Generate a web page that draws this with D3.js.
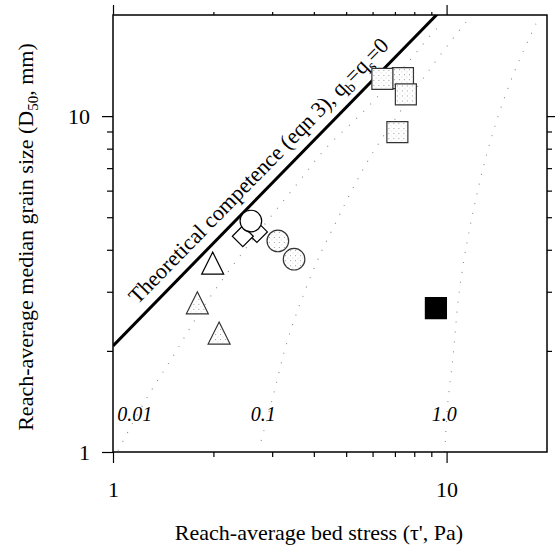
<!DOCTYPE html>
<html lang="en">
<head>
<meta charset="UTF-8">
<title>Reach-average grain size vs bed stress</title>
<script src="https://d3js.org/d3.v7.min.js"></script>
<style>
  body { margin: 0; background: #fff; }
  text { font-family: "Liberation Serif", "Times New Roman", serif; }
</style>
</head>
<body>
<svg id="chart" width="555" height="550"></svg>
<script>
// theoretical competence line (eqn 3)
var compTau = [1, 9.6];
var compD = [2.07, 20.6];

// dotted transport contours, labelled by value
var curveLabels = ["0.01", "0.1", "1.0"];
var curveTau = [
  [1.035, 1.29, 1.51, 1.80, 2.98, 3.54, 4.35, 5.57, 7.87, 8.91, 9.75],
  [2.78, 3.00, 3.35, 3.68, 4.17, 4.69, 5.28, 5.97, 7.25, 10.1, 11.5],
  [9.88, 10.1, 10.4, 10.96, 12.0, 13.7, 15.7, 18.7]
];
var curveD = [
  [1.01, 1.50, 1.92, 2.56, 5.04, 6.23, 8.03, 10.2, 14.9, 17.3, 19.0],
  [1.08, 1.43, 2.18, 2.85, 3.86, 4.90, 6.19, 7.70, 10.3, 16.3, 19.2],
  [1.0, 1.42, 1.83, 3.10, 5.18, 8.78, 13.0, 19.2]
];
var curveLabelTau = [1.03, 2.59, 9.02];
var curveLabelD = 1.236;

// observed reaches (drawing order)
var ptShape = ["triangle", "triangle", "triangle", "diamond", "diamond", "circle", "circle", "circle",
               "square", "square", "square", "square", "square"];
var ptFill  = ["open", "dots", "dots", "open", "open", "open", "dots", "dots",
               "dots", "dots", "dots", "dots", "solid"];
var ptTau   = [1.99, 1.79, 2.08, 2.70, 2.45, 2.59, 3.12, 3.49, 7.40, 6.42, 7.12, 7.55, 9.29];
var ptD     = [3.65, 2.78, 2.26, 4.52, 4.39, 4.87, 4.25, 3.75, 12.97, 12.9, 8.96, 11.6, 2.68];

var svg = d3.select("#chart");
var x = d3.scaleLog().domain([1, 20]).range([113, 547]);
var y = d3.scaleLog().domain([1, 20]).range([452, 15]);

var defs = svg.append("defs");
defs.append("clipPath").attr("id", "plotClip")
  .append("rect").attr("x", 113).attr("y", 15).attr("width", 434).attr("height", 437);
var pat = defs.append("pattern").attr("id", "stipple")
  .attr("patternUnits", "userSpaceOnUse").attr("width", 5).attr("height", 5);
pat.append("rect").attr("width", 5).attr("height", 5).attr("fill", "#fff");
pat.append("rect").attr("x", 1).attr("y", 1).attr("width", 1).attr("height", 1).attr("fill", "#999");
pat.append("rect").attr("x", 3.5).attr("y", 3.5).attr("width", 0.8).attr("height", 0.8).attr("fill", "#bbb");

var plot = svg.append("g").attr("clip-path", "url(#plotClip)");

// contours
var line = d3.line().x(d => x(d[0])).y(d => y(d[1])).curve(d3.curveMonotoneY);
curveTau.forEach(function(ts, i) {
  var pts = ts.map((t, j) => [t, curveD[i][j]]);
  plot.append("path")
    .attr("d", line(pts))
    .attr("fill", "none")
    .attr("stroke", "#8a8a8a")
    .attr("stroke-width", 1.1)
    .attr("stroke-dasharray", "1,9");
});

svg.selectAll(".clabel")
  .data(curveLabels)
  .join("text")
  .attr("class", "clabel")
  .attr("x", (d, i) => x(curveLabelTau[i]))
  .attr("y", y(curveLabelD))
  .attr("font-size", 20)
  .attr("font-style", "italic")
  .text(d => d);

// theoretical competence line
plot.append("path")
  .attr("d", d3.line().x(d => x(d[0])).y(d => y(d[1]))(compTau.map((t, i) => [t, compD[i]])))
  .attr("fill", "none")
  .attr("stroke", "#000")
  .attr("stroke-width", 3);

var ang = Math.atan2(y(compD[1]) - y(compD[0]), x(compTau[1]) - x(compTau[0])) * 180 / Math.PI;
var labTau = 1.25;
var labD = compD[0] * Math.pow(10, Math.log10(labTau) * Math.log10(compD[1] / compD[0]) / Math.log10(compTau[1] / compTau[0]));
var lab = svg.append("text")
  .attr("transform", "translate(" + x(labTau) + "," + y(labD) + ") rotate(" + ang + ")")
  .attr("dy", -11)
  .attr("font-size", 22);
lab.append("tspan").text("Theoretical competence (eqn 3), q");
lab.append("tspan").attr("font-size", 15).attr("dy", 5).text("b");
lab.append("tspan").attr("dy", -5).text("=q");
lab.append("tspan").attr("font-size", 15).attr("dy", 5).text("s");
lab.append("tspan").attr("dy", -5).text("=0");

// markers
function shapePath(s) {
  if (s == "triangle") return "M0,-11L11,11L-11,11Z";
  if (s == "diamond") return "M0,-10.5L10.5,0L0,10.5L-10.5,0Z";
  if (s == "square") return "M-10.5,-10.5H10.5V10.5H-10.5Z";
  var r = s == "circle" ? 10.8 : 10;
  return "M" + r + ",0A" + r + "," + r + " 0 1,1 " + (-r) + ",0A" + r + "," + r + " 0 1,1 " + r + ",0Z";
}
svg.append("g").selectAll("path")
  .data(ptTau)
  .join("path")
  .attr("transform", (d, i) => "translate(" + x(d) + "," + y(ptD[i]) + ")")
  .attr("d", (d, i) => shapePath(ptShape[i]))
  .attr("fill", (d, i) => ptFill[i] == "solid" ? "#000" : ptFill[i] == "dots" ? "url(#stipple)" : "#fff")
  .attr("stroke", (d, i) => ptFill[i] == "dots" ? "#333" : "#000")
  .attr("stroke-width", 1.2);

// axes
function axis(gen, vals, size, pad, labels) {
  var a = gen.tickValues(vals).tickSize(size).tickPadding(pad)
    .tickFormat(labels ? d3.format("d") : "");
  return function(g) {
    g.call(a);
    g.select(".domain").remove();
    g.attr("font-family", null).attr("font-size", 22);
    g.selectAll("line").attr("stroke", "#000").attr("stroke-width", 1.2);
    g.selectAll("text").attr("fill", "#000");
  };
}
var minors = [2, 3, 4, 5, 6, 7, 8, 9];
var axBottom = svg.append("g").attr("transform", "translate(0,452)");
axBottom.append("g").call(axis(d3.axisBottom(x), [1, 10], 11, 18, true));
axBottom.append("g").call(axis(d3.axisBottom(x), minors, 5, 0, false));
var axTop = svg.append("g").attr("transform", "translate(0,15)");
axTop.append("g").call(axis(d3.axisTop(x), [1, 10], 10, 0, false));
axTop.append("g").call(axis(d3.axisTop(x), minors, 3, 0, false));
var axLeft = svg.append("g").attr("transform", "translate(113,0)");
axLeft.append("g").call(axis(d3.axisLeft(y), [1, 10], 11, 12, true));
axLeft.append("g").call(axis(d3.axisLeft(y), minors, 6, 0, false));
var axRight = svg.append("g").attr("transform", "translate(547,0)");
axRight.append("g").call(axis(d3.axisRight(y), [10], 8, 0, false));
axRight.append("g").call(axis(d3.axisRight(y), minors, 5, 0, false));

svg.append("rect")
  .attr("x", 113).attr("y", 15).attr("width", 434).attr("height", 437)
  .attr("fill", "none").attr("stroke", "#000").attr("stroke-width", 1.5);

// axis titles
svg.append("text")
  .attr("x", 319).attr("y", 540)
  .attr("text-anchor", "middle")
  .attr("font-size", 22)
  .text("Reach-average bed stress (\u03c4', Pa)");

var yt = svg.append("text")
  .attr("transform", "translate(33,237) rotate(-90)")
  .attr("text-anchor", "middle")
  .attr("font-size", 22);
yt.append("tspan").text("Reach-average median grain size (D");
yt.append("tspan").attr("font-size", 15).attr("dy", 5).text("50");
yt.append("tspan").attr("dy", -5).text(", mm)");
</script>
</body>
</html>
